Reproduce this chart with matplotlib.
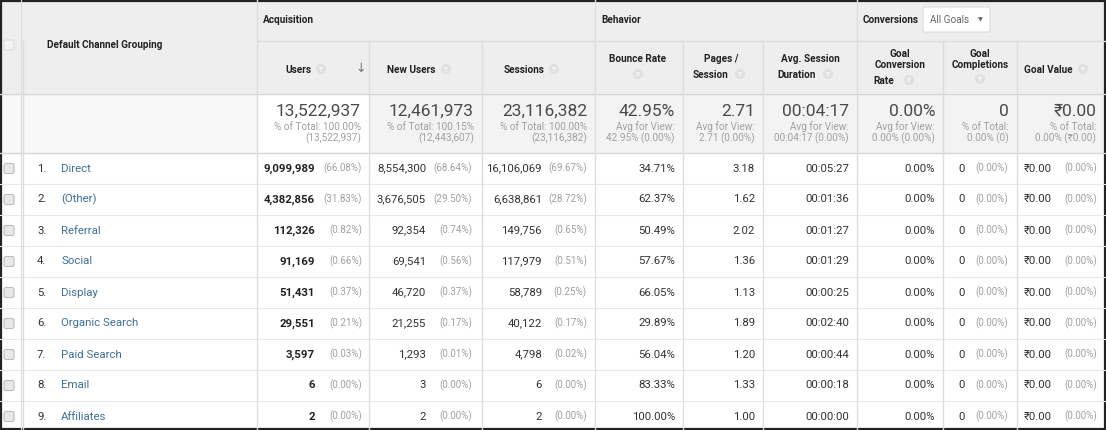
import matplotlib.pyplot as plt
from matplotlib.patches import Rectangle, Circle, FancyBboxPatch

plt.rcParams['font.family'] = ['Roboto', 'DejaVu Sans']

#Table data (Default Channel Grouping report)
channels = ['Direct', '(Other)', 'Referral', 'Social', 'Display',
            'Organic Search', 'Paid Search', 'Email', 'Affiliates']
users = [9099989, 4382856, 112326, 91169, 51431, 29551, 3597, 6, 2]
users_pct = [66.08, 31.83, 0.82, 0.66, 0.37, 0.21, 0.03, 0.00, 0.00]
new_users = [8554300, 3676505, 92354, 69541, 46720, 21255, 1293, 3, 2]
new_users_pct = [68.64, 29.50, 0.74, 0.56, 0.37, 0.17, 0.01, 0.00, 0.00]
sessions = [16106069, 6638861, 149756, 117979, 58789, 40122, 4798, 6, 2]
sessions_pct = [69.67, 28.72, 0.65, 0.51, 0.25, 0.17, 0.02, 0.00, 0.00]
bounce_rate = [34.71, 62.37, 50.49, 57.67, 66.05, 29.89, 56.04, 83.33, 100.00]
pages_session = [3.18, 1.62, 2.02, 1.36, 1.13, 1.89, 1.20, 1.33, 1.00]
avg_duration = ['00:05:27', '00:01:36', '00:01:27', '00:01:29', '00:00:25',
                '00:02:40', '00:00:44', '00:00:18', '00:00:00']
goal_conv_rate = [0.00, 0.00, 0.00, 0.00, 0.00, 0.00, 0.00, 0.00, 0.00]
goal_completions = [0, 0, 0, 0, 0, 0, 0, 0, 0]
goal_completions_pct = [0.00, 0.00, 0.00, 0.00, 0.00, 0.00, 0.00, 0.00, 0.00]
goal_value = [0.00, 0.00, 0.00, 0.00, 0.00, 0.00, 0.00, 0.00, 0.00]
goal_value_pct = [0.00, 0.00, 0.00, 0.00, 0.00, 0.00, 0.00, 0.00, 0.00]

#Totals row: big value, first sub line, second sub line
totals_main = ['13,522,937', '12,461,973', '23,116,382', '42.95%', '2.71',
               '00:04:17', '0.00%', '0', '₹0.00']
totals_sub1 = ['% of Total: 100.00%', '% of Total: 100.15%', '% of Total: 100.00%',
               'Avg for View:', 'Avg for View:', 'Avg for View:', 'Avg for View:',
               '% of Total:', '% of Total:']
totals_sub2 = ['(13,522,937)', '(12,443,607)', '(23,116,382)', '42.95% (0.00%)',
               '2.71 (0.00%)', '00:04:17 (0.00%)', '0.00% (0.00%)', '0.00% (0)',
               '0.00% (₹0.00)']

#Layout in pixels
W, H = 1106, 430
col_edges = [0, 23, 257, 369, 482, 595, 683, 763, 857, 943, 1017, 1104]
group_bottom = 41
header_bottom = 94
totals_bottom = 153
row_h = 31

HEADER_BG = '#eeeeee'
LINE = '#dddddd'
TEXT = '#222222'
DATA = '#333333'
GREY = '#a0a0a0'
LINK = '#3f6f96'

fig = plt.figure(figsize=(W / 100, H / 100), dpi=100)
ax = fig.add_axes([0, 0, 1, 1])
ax.set_xlim(0, W)
ax.set_ylim(H, 0)
ax.axis('off')


def qmark(x, y):
    ax.add_patch(Circle((x, y), 5, facecolor='#e0e0e0', edgecolor='none'))
    ax.text(x, y + 0.5, '?', fontsize=5.5, color='white', ha='center', va='center',
            fontweight='bold')


def checkbox(y, faint=False):
    ax.add_patch(FancyBboxPatch((4, y - 5), 10, 10, boxstyle='round,pad=0,rounding_size=2',
                                facecolor='#f3f3f3' if faint else '#e8e8e8',
                                edgecolor='#dddddd' if faint else '#bdbdbd', lw=0.8))


#Backgrounds
ax.add_patch(Rectangle((0, 0), W, header_bottom, facecolor=HEADER_BG, edgecolor='none'))
ax.add_patch(Rectangle((0, header_bottom), col_edges[2], totals_bottom - header_bottom,
                       facecolor='#f8f8f8', edgecolor='none'))
ax.add_patch(Rectangle((col_edges[2], header_bottom), W - col_edges[2],
                       totals_bottom - header_bottom, facecolor='#f3f3f3', edgecolor='none'))
ax.add_patch(Rectangle((col_edges[2], header_bottom), col_edges[3] - col_edges[2],
                       totals_bottom - header_bottom, facecolor='white', edgecolor='none'))

#Grid lines
ax.plot([col_edges[2], W], [group_bottom, group_bottom], color=LINE, lw=1)
ax.plot([0, W], [header_bottom, header_bottom], color='#d6d6d6', lw=1)
ax.plot([0, W], [totals_bottom, totals_bottom], color='#d6d6d6', lw=1)
for i in range(1, len(channels)):
    yy = totals_bottom + i * row_h
    ax.plot([0, W], [yy, yy], color='#e8e8e8', lw=0.8)
for x in col_edges[1:-1]:
    top = group_bottom if x not in (col_edges[2], 595, 857) else 0
    ax.plot([x, x], [top, H], color=LINE, lw=1)
ax.plot([col_edges[1] - 2, col_edges[1] - 2], [0, H], color=LINE, lw=0.8)

#Group header row
ax.text(263, 20, 'Acquisition', fontsize=7.2, fontweight='bold', color=TEXT, va='center')
ax.text(601, 20, 'Behavior', fontsize=7.2, fontweight='bold', color=TEXT, va='center')
ax.text(863, 20, 'Conversions', fontsize=7.2, fontweight='bold', color=TEXT, va='center')
ax.add_patch(FancyBboxPatch((923, 7), 67, 25, boxstyle='round,pad=0,rounding_size=2',
                            facecolor='white', edgecolor='#dddddd', lw=0.8))
ax.text(930, 20, 'All Goals', fontsize=7.2, color='#666666', va='center')
ax.text(978, 20, '▼', fontsize=4.5, color='#666666', va='center')

#Column headers
checkbox(45, faint=True)
ax.text(47, 45, 'Default Channel Grouping', fontsize=7.2, fontweight='bold', color=TEXT,
        va='center')
ax.text(285, 70, 'Users', fontsize=7.2, fontweight='bold', color=TEXT, va='center')
qmark(321, 69)
ax.text(361, 68, '↓', fontsize=9, color='#777777', ha='center', va='center')
ax.text(387, 70, 'New Users', fontsize=7.2, fontweight='bold', color=TEXT, va='center')
qmark(446, 69)
ax.text(504, 70, 'Sessions', fontsize=7.2, fontweight='bold', color=TEXT, va='center')
qmark(554, 69)
ax.text(638, 59, 'Bounce Rate', fontsize=7.2, fontweight='bold', color=TEXT,
        ha='center', va='center')
qmark(638, 74)
ax.text(721, 59, 'Pages /', fontsize=7.2, fontweight='bold', color=TEXT,
        ha='center', va='center')
ax.text(693, 75, 'Session', fontsize=7.2, fontweight='bold', color=TEXT, va='center')
qmark(740, 74)
ax.text(810, 59, 'Avg. Session', fontsize=7.2, fontweight='bold', color=TEXT,
        ha='center', va='center')
ax.text(777, 75, 'Duration', fontsize=7.2, fontweight='bold', color=TEXT, va='center')
qmark(828, 74)
ax.text(900, 54, 'Goal', fontsize=7.2, fontweight='bold', color=TEXT, ha='center', va='center')
ax.text(900, 65, 'Conversion', fontsize=7.2, fontweight='bold', color=TEXT,
        ha='center', va='center')
ax.text(873, 81, 'Rate', fontsize=7.2, fontweight='bold', color=TEXT, va='center')
qmark(909, 80)
ax.text(980, 54, 'Goal', fontsize=7.2, fontweight='bold', color=TEXT, ha='center', va='center')
ax.text(980, 65, 'Completions', fontsize=7.2, fontweight='bold', color=TEXT,
        ha='center', va='center')
qmark(980, 79)
ax.text(1024, 70, 'Goal Value', fontsize=7.2, fontweight='bold', color=TEXT, va='center')
qmark(1083, 69)

#Totals row
for k in range(9):
    xr = col_edges[k + 3] - 8
    ax.text(xr, 111, totals_main[k], fontsize=12.5, color='#4a4a4a', ha='right', va='center')
    ax.text(xr, 127, totals_sub1[k], fontsize=7.2, color=GREY, ha='right', va='center')
    ax.text(xr, 138, totals_sub2[k], fontsize=7.2, color=GREY, ha='right', va='center')

#Data rows
for i, name in enumerate(channels):
    y = totals_bottom + (i + 0.5) * row_h
    checkbox(y)
    ax.text(37, y, f'{i + 1}.', fontsize=8.2, color=DATA, va='center')
    ax.text(61, y, name, fontsize=8.2, color=LINK, va='center')
    ax.text(315, y, f'{users[i]:,}', fontsize=8.2, color='#222222', fontweight='bold',
            ha='right', va='center')
    ax.text(362, y, f'({users_pct[i]:.2f}%)', fontsize=7, color=GREY, ha='right', va='center')
    ax.text(426, y, f'{new_users[i]:,}', fontsize=8.2, color=DATA, ha='right', va='center')
    ax.text(472, y, f'({new_users_pct[i]:.2f}%)', fontsize=7, color=GREY,
            ha='right', va='center')
    ax.text(542, y, f'{sessions[i]:,}', fontsize=8.2, color=DATA, ha='right', va='center')
    ax.text(587, y, f'({sessions_pct[i]:.2f}%)', fontsize=7, color=GREY,
            ha='right', va='center')
    ax.text(675, y, f'{bounce_rate[i]:.2f}%', fontsize=8.2, color=DATA, ha='right', va='center')
    ax.text(755, y, f'{pages_session[i]:.2f}', fontsize=8.2, color=DATA, ha='right', va='center')
    ax.text(849, y, avg_duration[i], fontsize=8.2, color=DATA, ha='right', va='center')
    ax.text(935, y, f'{goal_conv_rate[i]:.2f}%', fontsize=8.2, color=DATA,
            ha='right', va='center')
    ax.text(965, y, f'{goal_completions[i]}', fontsize=8.2, color=DATA, ha='right', va='center')
    ax.text(1008, y, f'({goal_completions_pct[i]:.2f}%)', fontsize=7, color=GREY,
            ha='right', va='center')
    ax.text(1052, y, f'₹{goal_value[i]:.2f}', fontsize=8.2, color=DATA, ha='right', va='center')
    ax.text(1097, y, f'({goal_value_pct[i]:.2f}%)', fontsize=7, color=GREY,
            ha='right', va='center')

#Outer frame
ax.add_patch(Rectangle((0.5, 0.5), W - 1.5, H - 1.5, facecolor='none', edgecolor='#222222',
                       lw=1.6))

fig.savefig('out.png', dpi=100)
